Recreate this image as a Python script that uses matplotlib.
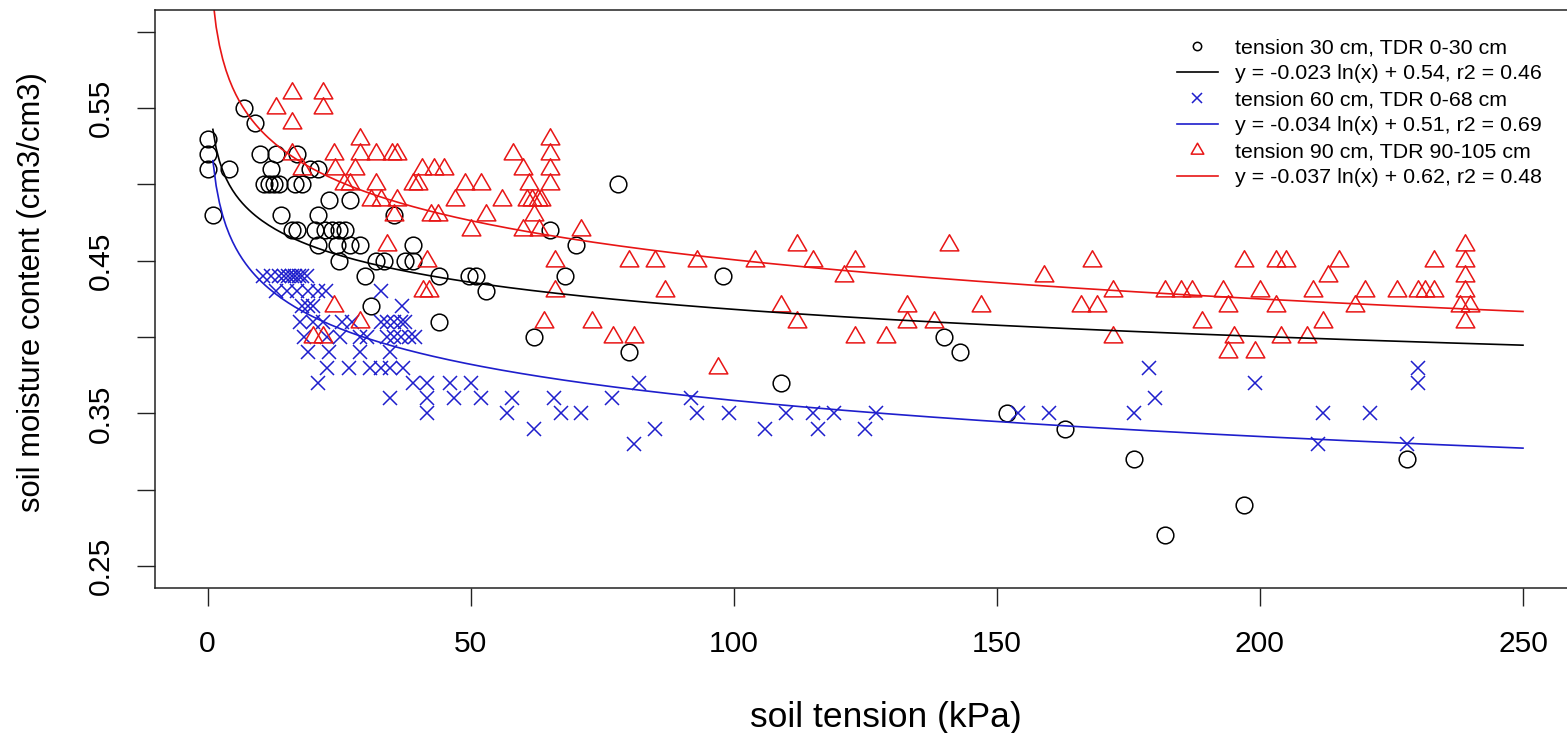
import numpy as np
import matplotlib
matplotlib.use("Agg")
import matplotlib.pyplot as plt
from matplotlib.lines import Line2D
from matplotlib.path import Path

plt.rcParams['font.family'] = ['Liberation Sans', 'DejaVu Sans']

# tension 30 cm, TDR 0-30 cm (circles)
t30_x = [0, 0, 0, 1, 4, 7, 9,
         10, 13, 17,
         12, 19.5, 21,
         10.7, 11.6, 12.6, 13.5, 16.7, 18,
         23, 27,
         14, 21, 35.5,
         16, 17, 20.5, 22.4, 23.7, 25, 26.2, 65,
         21, 24.6, 27, 29, 39, 70,
         25, 32, 33.5, 37.6, 39,
         30, 44, 49.7, 51, 68, 98,
         53, 31, 44, 62, 140, 80, 143, 109, 152, 163, 176, 228, 197, 182, 78]
t30_y = [0.53, 0.52, 0.51, 0.48, 0.51, 0.55, 0.54,
         0.52, 0.52, 0.52,
         0.51, 0.51, 0.51,
         0.50, 0.50, 0.50, 0.50, 0.50, 0.50,
         0.49, 0.49,
         0.48, 0.48, 0.48,
         0.47, 0.47, 0.47, 0.47, 0.47, 0.47, 0.47, 0.47,
         0.46, 0.46, 0.46, 0.46, 0.46, 0.46,
         0.45, 0.45, 0.45, 0.45, 0.45,
         0.44, 0.44, 0.44, 0.44, 0.44, 0.44,
         0.43, 0.42, 0.41, 0.40, 0.40, 0.39, 0.39, 0.37, 0.35, 0.34, 0.32, 0.32, 0.29, 0.27, 0.50]

# tension 60 cm, TDR 0-68 cm (crosses)
t60_x = [10.5, 12, 13.5, 14.5, 15.3, 16, 16.7, 17.3, 18, 18.9,
         13, 15, 17, 19, 21, 22.5, 33,
         18, 19, 20, 37,
         17.6, 20, 22, 25.5, 27.5, 33, 34.1, 35.4, 36.7, 37.6,
         18.3, 22.7, 25.2, 29, 30.3, 34.1, 35.4, 36.7, 38.2, 39.5,
         19, 23, 29, 34.7,
         22.7, 26.8, 30.8, 33, 34.7, 37.2, 179, 230,
         21, 39, 41.7, 46, 50, 82, 199, 230,
         34.7, 41.7, 46.8, 51.9, 57.9, 65.8, 76.9, 91.8, 180,
         41.7, 56.9, 67.1, 70.9, 93, 99, 110, 115, 119, 127, 154, 160, 176, 212, 221,
         62, 85, 106, 116, 125,
         81, 211, 228]
t60_y = [0.44, 0.44, 0.44, 0.44, 0.44, 0.44, 0.44, 0.44, 0.44, 0.44,
         0.43, 0.43, 0.43, 0.43, 0.43, 0.43, 0.43,
         0.42, 0.42, 0.42, 0.42,
         0.41, 0.41, 0.41, 0.41, 0.41, 0.41, 0.41, 0.41, 0.41, 0.41,
         0.40, 0.40, 0.40, 0.40, 0.40, 0.40, 0.40, 0.40, 0.40, 0.40,
         0.39, 0.39, 0.39, 0.39,
         0.38, 0.38, 0.38, 0.38, 0.38, 0.38, 0.38, 0.38,
         0.37, 0.37, 0.37, 0.37, 0.37, 0.37, 0.37, 0.37,
         0.36, 0.36, 0.36, 0.36, 0.36, 0.36, 0.36, 0.36, 0.36,
         0.35, 0.35, 0.35, 0.35, 0.35, 0.35, 0.35, 0.35, 0.35, 0.35, 0.35, 0.35, 0.35, 0.35, 0.35,
         0.34, 0.34, 0.34, 0.34, 0.34,
         0.33, 0.33, 0.33]

# tension 90 cm, TDR 90-105 cm (triangles)
t90_x = [16, 22,
         13, 22,
         16,
         29, 65,
         16, 24, 29, 32, 35, 36, 58, 65,
         18, 24.3, 28, 40.8, 43, 45, 60, 65,
         26, 27, 32, 39, 40, 49, 52, 61, 65,
         31, 33, 36, 47, 56, 60.7, 61.7, 62.7, 63.4,
         35.4, 42.5, 43.8, 53, 62,
         50, 60, 63, 71,
         34, 112, 141, 239,
         41.7, 66, 80, 85, 93, 104, 115, 123, 168, 197, 203, 205, 215, 233, 239,
         121, 159, 213, 239,
         41, 42, 66, 87, 172, 182, 185, 187, 193, 200, 210, 220, 226, 230, 231.4, 233, 239,
         24, 109, 133, 147, 166, 169, 194, 203, 218, 238, 240,
         29, 64, 73, 112, 133, 138, 189, 212, 239,
         20, 22, 77, 81, 123, 129, 172, 195, 204, 209,
         194, 199,
         97]
t90_y = [0.56, 0.56,
         0.55, 0.55,
         0.54,
         0.53, 0.53,
         0.52, 0.52, 0.52, 0.52, 0.52, 0.52, 0.52, 0.52,
         0.51, 0.51, 0.51, 0.51, 0.51, 0.51, 0.51, 0.51,
         0.50, 0.50, 0.50, 0.50, 0.50, 0.50, 0.50, 0.50, 0.50,
         0.49, 0.49, 0.49, 0.49, 0.49, 0.49, 0.49, 0.49, 0.49,
         0.48, 0.48, 0.48, 0.48, 0.48,
         0.47, 0.47, 0.47, 0.47,
         0.46, 0.46, 0.46, 0.46,
         0.45, 0.45, 0.45, 0.45, 0.45, 0.45, 0.45, 0.45, 0.45, 0.45, 0.45, 0.45, 0.45, 0.45, 0.45,
         0.44, 0.44, 0.44, 0.44,
         0.43, 0.43, 0.43, 0.43, 0.43, 0.43, 0.43, 0.43, 0.43, 0.43, 0.43, 0.43, 0.43, 0.43, 0.43, 0.43, 0.43,
         0.42, 0.42, 0.42, 0.42, 0.42, 0.42, 0.42, 0.42, 0.42, 0.42, 0.42,
         0.41, 0.41, 0.41, 0.41, 0.41, 0.41, 0.41, 0.41, 0.41,
         0.40, 0.40, 0.40, 0.40, 0.40, 0.40, 0.40, 0.40, 0.40, 0.40,
         0.39, 0.39,
         0.38]

# log fits y = a ln(x) + b, as drawn
fit_a = [-0.0256, -0.0341, -0.0370]
fit_b = [0.536, 0.5155, 0.621]

labels = ["tension 30 cm, TDR 0-30 cm",
          "y = -0.023 ln(x) + 0.54, r2 = 0.46",
          "tension 60 cm, TDR 0-68 cm",
          "y = -0.034 ln(x) + 0.51, r2 = 0.69",
          "tension 90 cm, TDR 90-105 cm",
          "y = -0.037 ln(x) + 0.62, r2 = 0.48"]

BLUE = '#1e1ecc'
RED = '#e81515'
tri = Path([(0, 1), (-0.866, -0.5), (0.866, -0.5), (0, 1)], closed=True)

fig = plt.figure(figsize=(15.67, 7.33), dpi=100)
ax = fig.add_axes([155 / 1567, 145 / 733, 1420.6 / 1567, 578 / 733])

ax.plot(t30_x, t30_y, ls='none', marker='o', mfc='none', mec='black', ms=12, mew=1.1)
ax.plot(t60_x, t60_y, ls='none', marker='x', color=BLUE, ms=10.5, mew=1.1)
ax.plot(t90_x, t90_y, ls='none', marker=tri, mfc='none', mec=RED, ms=15.5, mew=1.1)

xs = np.linspace(1, 250, 400)
for a, b, c in zip(fit_a, fit_b, ['black', BLUE, RED]):
    ax.plot(xs, a * np.log(xs) + b, color=c, lw=1.2)

ax.set_xlim(-10, 260)
ax.set_ylim(0.2356, 0.6142)
ax.set_xticks([0, 50, 100, 150, 200, 250])
ax.set_yticks([0.25, 0.30, 0.35, 0.40, 0.45, 0.50, 0.55, 0.60])
ax.set_yticklabels(['0.25', '', '0.35', '', '0.45', '', '0.55', ''])
ax.tick_params(axis='both', length=13, width=1, labelsize=21.6, color='#222222')
ax.tick_params(axis='x', pad=17)
ax.tick_params(axis='y', pad=16)
for lab in ax.get_yticklabels():
    lab.set_rotation(90)
    lab.set_va('center')
for s in ax.spines.values():
    s.set_linewidth(1.1)
    s.set_color('#222222')

fig.text(886 / 1567, 1 - 717 / 733, "soil tension (kPa)", ha='center', va='center', fontsize=25.5)
fig.text(32 / 1567, 1 - 292 / 733, "soil moisture content (cm3/cm3)", ha='center', va='center',
         rotation=90, fontsize=22.3)

handles = [
    Line2D([], [], ls='none', marker='o', mfc='none', mec='black', ms=6, mew=1.1),
    Line2D([], [], color='black', lw=1.2),
    Line2D([], [], ls='none', marker='x', color=BLUE, ms=6.5, mew=1.1),
    Line2D([], [], color=BLUE, lw=1.2),
    Line2D([], [], ls='none', marker=tri, mfc='none', mec=RED, ms=10.5, mew=1.1),
    Line2D([], [], color=RED, lw=1.2),
]
ax.legend(handles, labels, loc='upper left', bbox_to_anchor=(1177 / 1567, 1 - 38 / 733),
          bbox_transform=fig.transFigure, frameon=False, fontsize=15.4,
          handlelength=1.9, handletextpad=0.8, labelspacing=0.33,
          borderpad=0, borderaxespad=0)

fig.savefig("out.png", dpi=100)
